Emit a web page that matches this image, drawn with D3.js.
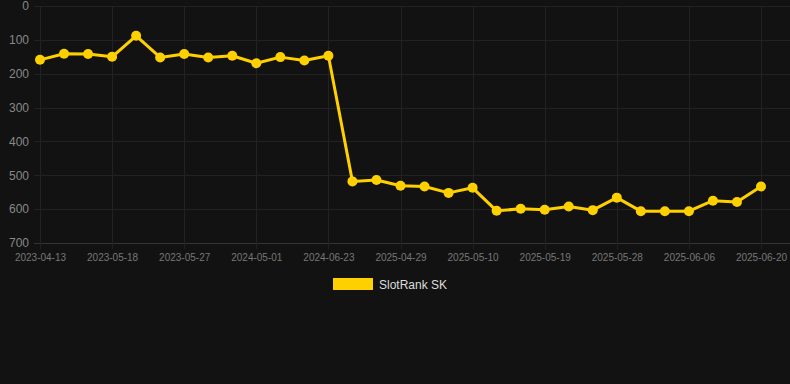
<!DOCTYPE html>
<html><head><meta charset="utf-8">
<script src="https://cdn.jsdelivr.net/npm/d3@7"></script>
<style>html,body{margin:0;padding:0;background:#121212;}svg{display:block;}</style>
</head><body>
<svg id="c" width="790" height="384"></svg>
<script>
const tickLabels = ["2023-04-13","2023-05-18","2023-05-27","2024-05-01","2024-06-23","2025-04-29","2025-05-10","2025-05-19","2025-05-28","2025-06-06","2025-06-20"];
const seriesName = "SlotRank SK";
const values = [159,141,142,150,88,152,142,152,147,169,151,161,147,518,514,531,533,552,537,605,599,602,592,603,566,606,606,606,575,579,533];
const yTicks = [0,100,200,300,400,500,600,700];

(function(){
const svg = d3.select("#c");
const W = 790, H = 384;
svg.append("rect").attr("width",W).attr("height",H).attr("fill","#121212");
const mLeft = 40, mRight = 761, mTop = 6, mBottom = 243;
const x = d3.scalePoint().domain(d3.range(values.length)).range([mLeft, mRight]);
const y = d3.scaleLinear().domain([0,700]).range([mTop, mBottom]);
const font = "Liberation Sans, Arial, Helvetica, sans-serif";

// horizontal grid
svg.append("g").selectAll("line").data(yTicks).join("line")
  .attr("x1", 34).attr("x2", mRight+29)
  .attr("y1", d=>Math.round(y(d))+0.5).attr("y2", d=>Math.round(y(d))+0.5)
  .attr("stroke", d=> d===700 ? "#333" : "#222").attr("stroke-width",1);
// vertical grid
const tickIdx = d3.range(values.length).filter(i=>i%3===0);
svg.append("g").selectAll("line").data(tickIdx).join("line")
  .attr("x1", d=>Math.round(x(d))+0.5).attr("x2", d=>Math.round(x(d))+0.5)
  .attr("y1", mTop).attr("y2", mBottom+6)
  .attr("stroke","#222").attr("stroke-width",1);

// y axis labels
const yAxis = d3.axisLeft(y).tickValues(yTicks).tickSize(0).tickPadding(0);
const gy = svg.append("g").attr("transform","translate(29,0)").call(yAxis);
gy.select(".domain").remove();
gy.selectAll("text").attr("fill","#888").style("font-family",font).style("font-size","12px");

// x axis labels
const xAxis = d3.axisBottom(x).tickValues(tickIdx).tickSize(0).tickPadding(0).tickFormat(d=>tickLabels[d/3]);
const gx = svg.append("g").attr("transform",`translate(0,${mBottom+11})`).call(xAxis);
gx.select(".domain").remove();
gx.selectAll("text").attr("fill","#777").style("font-family",font).style("font-size","10px");

// line
const color = "#FFD000";
svg.append("path").datum(values)
  .attr("fill","none").attr("stroke",color).attr("stroke-width",3).attr("stroke-linejoin","round")
  .attr("d", d3.line().x((d,i)=>x(i)).y(d=>y(d)));
svg.append("g").selectAll("circle").data(values).join("circle")
  .attr("cx",(d,i)=>x(i)).attr("cy",d=>y(d)).attr("r",5).attr("fill",color);

// legend
svg.append("rect").attr("x",333).attr("y",278).attr("width",40).attr("height",12).attr("fill",color);
svg.append("text").attr("x",379).attr("y",289).text(seriesName)
  .attr("fill","#ddd").style("font-family",font).style("font-size","12px");
})();
</script>
</body></html>
